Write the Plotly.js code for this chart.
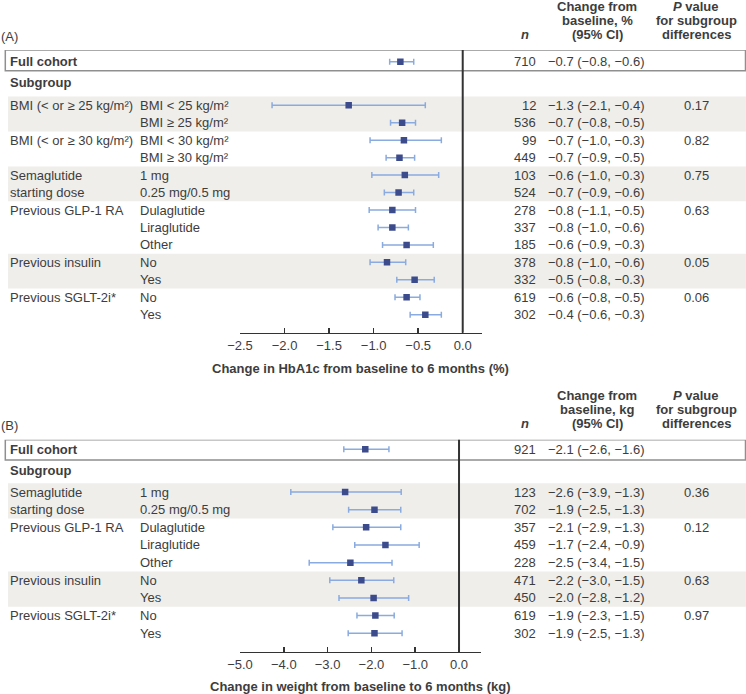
<!DOCTYPE html>
<html>
<head>
<meta charset="utf-8">
<script src="https://cdn.plot.ly/plotly-3.0.1.min.js"></script>
<style>html,body{margin:0;padding:0;background:#fff;}#chart{width:746px;height:694px;}</style>
</head>
<body>
<div id="chart"></div>
<script>
// ---------- Panel A data (HbA1c, %) ----------
const groupsA = ["BMI (&lt; or ≥ 25 kg/m²)", "", "BMI (&lt; or ≥ 30 kg/m²)", "", "Semaglutide", "starting dose", "Previous GLP-1 RA", "", "", "Previous insulin", "", "Previous SGLT-2i*", ""];
const subgroupsA = ["BMI &lt; 25 kg/m²", "BMI ≥ 25 kg/m²", "BMI &lt; 30 kg/m²", "BMI ≥ 30 kg/m²", "1 mg", "0.25 mg/0.5 mg", "Dulaglutide", "Liraglutide", "Other", "No", "Yes", "No", "Yes"];
const nA = [12, 536, 99, 449, 103, 524, 278, 337, 185, 378, 332, 619, 302];
const ciTextA = ["−1.3 (−2.1, −0.4)", "−0.7 (−0.8, −0.5)", "−0.7 (−1.0, −0.3)", "−0.7 (−0.9, −0.5)", "−0.6 (−1.0, −0.3)", "−0.7 (−0.9, −0.6)", "−0.8 (−1.1, −0.5)", "−0.8 (−1.0, −0.6)", "−0.6 (−0.9, −0.3)", "−0.8 (−1.0, −0.6)", "−0.5 (−0.8, −0.3)", "−0.6 (−0.8, −0.5)", "−0.4 (−0.6, −0.3)"];
const pA = ["0.17", "", "0.82", "", "0.75", "", "0.63", "", "", "0.05", "", "0.06", ""];
const estA = [-1.28, -0.68, -0.66, -0.71, -0.65, -0.72, -0.79, -0.79, -0.63, -0.85, -0.54, -0.63, -0.42];
const loA  = [-2.14, -0.81, -1.04, -0.86, -1.02, -0.88, -1.05, -0.95, -0.90, -1.04, -0.74, -0.76, -0.59];
const hiA  = [-0.42, -0.53, -0.24, -0.54, -0.27, -0.55, -0.53, -0.61, -0.33, -0.64, -0.32, -0.48, -0.24];
const fullA = {n: 710, ci: "−0.7 (−0.8, −0.6)", est: -0.70, lo: -0.82, hi: -0.55};
const bandsA = [0, 4, 9];
const tickValsA = [-2.5, -2.0, -1.5, -1.0, -0.5, 0.0];
const tickTextA = ["−2.5", "−2.0", "−1.5", "−1.0", "−0.5", "0.0"];
const headerCIA = ["Change from", "baseline, %", "(95% CI)"];
const xTitleA = "Change in HbA1c from baseline to 6 months (%)";

// ---------- Panel B data (weight, kg) ----------
const groupsB = ["Semaglutide", "starting dose", "Previous GLP-1 RA", "", "", "Previous insulin", "", "Previous SGLT-2i*", ""];
const subgroupsB = ["1 mg", "0.25 mg/0.5 mg", "Dulaglutide", "Liraglutide", "Other", "No", "Yes", "No", "Yes"];
const nB = [123, 702, 357, 459, 228, 471, 450, 619, 302];
const ciTextB = ["−2.6 (−3.9, −1.3)", "−1.9 (−2.5, −1.3)", "−2.1 (−2.9, −1.3)", "−1.7 (−2.4, −0.9)", "−2.5 (−3.4, −1.5)", "−2.2 (−3.0, −1.5)", "−2.0 (−2.8, −1.2)", "−1.9 (−2.3, −1.5)", "−1.9 (−2.5, −1.3)"];
const pB = ["0.36", "", "0.12", "", "", "0.63", "", "0.97", ""];
const estB = [-2.60, -1.93, -2.12, -1.68, -2.48, -2.23, -1.95, -1.91, -1.93];
const loB  = [-3.84, -2.52, -2.88, -2.38, -3.42, -2.95, -2.74, -2.33, -2.53];
const hiB  = [-1.32, -1.33, -1.33, -0.91, -1.53, -1.49, -1.15, -1.48, -1.30];
const fullB = {n: 921, ci: "−2.1 (−2.6, −1.6)", est: -2.14, lo: -2.63, hi: -1.60};
const bandsB = [0, 5];
const tickValsB = [-5.0, -4.0, -3.0, -2.0, -1.0, 0.0];
const tickTextB = ["−5.0", "−4.0", "−3.0", "−2.0", "−1.0", "0.0"];
const headerCIB = ["Change from", "baseline, kg", "(95% CI)"];
const xTitleB = "Change in weight from baseline to 6 months (kg)";

const headerP = ["<i>P</i> value", "for subgroup", "differences"];

// ---------- styling ----------
const W = 746, H = 694;
const FONT = "Liberation Sans, Arial, sans-serif";
const TXT = "#3d3d3d";
const MARK = "#3c4b8b";
const ERR = "#8aabdf";
const BAND = "#efeeea";
const px = v => v / W;
const py = v => 1 - v / H;

const panels = [
  {label: "(A)", labelY: 36.7, groups: groupsA, subs: subgroupsA, n: nA, ci: ciTextA, p: pA, est: estA, lo: loA, hi: hiA, full: fullA, bands: bandsA,
   row0: 105.3, step: 17.45, top: 50, bottom: 332.7, boxBottom: 70.7, fullRow: -2.5, subRow: -1.32,
   xRange: [-2.5, 0.213], xDomain: [240, 481.7], tv: tickValsA, tt: tickTextA, title: xTitleA, titleY: 368.5,
   hdr: headerCIA, hdrY: [6.7, 20.7, 34.5]},
  {label: "(B)", labelY: 425, groups: groupsB, subs: subgroupsB, n: nB, ci: ciTextB, p: pB, est: estB, lo: loB, hi: hiB, full: fullB, bands: bandsB,
   row0: 492, step: 17.66, top: 439.7, bottom: 651.7, boxBottom: 460, fullRow: -2.42, subRow: -1.19,
   xRange: [-5, 0.495], xDomain: [240, 480.7], tv: tickValsB, tt: tickTextB, title: xTitleB, titleY: 686.7,
   hdr: headerCIB, hdrY: [395.5, 409.5, 423.5]}
];

const traces = [];
const annotations = [];
const shapes = [];
const layout = {
  width: W, height: H, margin: {l: 0, r: 0, t: 0, b: 0},
  paper_bgcolor: "#ffffff", plot_bgcolor: "rgba(0,0,0,0)",
  showlegend: false, font: {family: FONT, size: 13, color: TXT},
  annotations: annotations, shapes: shapes
};

function ann(text, x, y, yref, xanchor, opts) {
  annotations.push(Object.assign({
    text: text, x: x, y: y, xref: "paper", yref: yref, xanchor: xanchor, yanchor: "middle",
    showarrow: false, borderpad: 0, font: {family: FONT, size: 13, color: TXT}
  }, opts || {}));
}

panels.forEach((P, k) => {
  const sfx = k === 0 ? "" : "2";
  const xa = "x" + sfx, ya = "y" + sfx;
  const rowBottom = (P.bottom - P.row0) / P.step;
  const rowTop = (P.top - P.row0) / P.step;
  const boxRow = (P.boxBottom - P.row0) / P.step;

  layout["xaxis" + sfx] = {
    domain: [px(P.xDomain[0]), px(P.xDomain[1])], range: P.xRange, anchor: ya,
    showline: true, linecolor: "#333333", linewidth: 1.5, mirror: false,
    ticks: "inside", ticklen: 5, tickwidth: 1.5, tickcolor: "#333333",
    tickmode: "array", tickvals: P.tv, ticktext: P.tt,
    tickfont: {family: FONT, size: 13, color: TXT},
    showgrid: false, zeroline: false, fixedrange: true
  };
  layout["yaxis" + sfx] = {
    domain: [py(P.bottom), py(P.top)], range: [rowBottom, rowTop], anchor: xa,
    visible: false, showgrid: false, zeroline: false, fixedrange: true
  };

  const rows = P.est.map((_, i) => i);
  const ys = [P.fullRow].concat(rows);
  const xs = [P.full.est].concat(P.est);
  const plus = [P.full.hi - P.full.est].concat(P.hi.map((h, i) => h - P.est[i]));
  const minus = [P.full.est - P.full.lo].concat(P.lo.map((l, i) => P.est[i] - l));
  traces.push({
    type: "scatter", mode: "markers", x: xs, y: ys, xaxis: xa, yaxis: ya,
    marker: {symbol: "square", size: 6.5, color: MARK},
    error_x: {type: "data", symmetric: false, array: plus, arrayminus: minus, color: ERR, thickness: 1.5, width: 3},
    hoverinfo: "skip"
  });

  // shaded bands
  P.bands.forEach(b => shapes.push({type: "rect", xref: "paper", yref: ya, x0: px(8), x1: 1, y0: b - 0.5, y1: b + 1.5,
    fillcolor: BAND, line: {width: 0}, layer: "below"}));
  // full cohort box
  shapes.push({type: "rect", xref: "paper", yref: ya, x0: px(5.3), x1: px(745.5), y0: rowTop, y1: boxRow,
    fillcolor: "rgba(0,0,0,0)", line: {color: "#8f8f8f", width: 1.5}, layer: "above"});
  // zero line
  shapes.push({type: "line", xref: xa, yref: ya + " domain", x0: 0, x1: 0, y0: 0, y1: 1,
    line: {color: "#333333", width: 2}, layer: "above"});

  // panel label
  ann(P.label, 0, py(P.labelY), "paper", "left");
  // headers
  P.hdr.forEach((h, i) => ann("<b>" + h + "</b>", px(597), py(P.hdrY[i]), "paper", "center"));
  headerP.forEach((h, i) => ann("<b>" + h + "</b>", px(696.3), py(P.hdrY[i]), "paper", "center"));
  ann("<b><i>n</i></b>", px(524.7), py(P.hdrY[2]), "paper", "center");

  // full cohort row
  ann("<b>Full cohort</b>", px(9), P.fullRow, ya, "left");
  ann(String(P.full.n), px(536.5), P.fullRow, ya, "right");
  ann(P.full.ci, px(547), P.fullRow, ya, "left");
  ann("<b>Subgroup</b>", px(9), P.subRow, ya, "left");

  rows.forEach(i => {
    if (P.groups[i]) ann(P.groups[i], px(9), i, ya, "left");
    ann(P.subs[i], px(138.8), i, ya, "left");
    ann(String(P.n[i]), px(536.5), i, ya, "right");
    ann(P.ci[i], px(547), i, ya, "left");
    if (P.p[i]) ann(P.p[i], px(696.3), i, ya, "center");
  });

  // axis title
  ann("<b>" + P.title + "</b>", px((P.xDomain[0] + P.xDomain[1]) / 2), py(P.titleY), "paper", "center");
});

Plotly.newPlot("chart", traces, layout, {staticPlot: true, displayModeBar: false});
</script>
</body>
</html>
